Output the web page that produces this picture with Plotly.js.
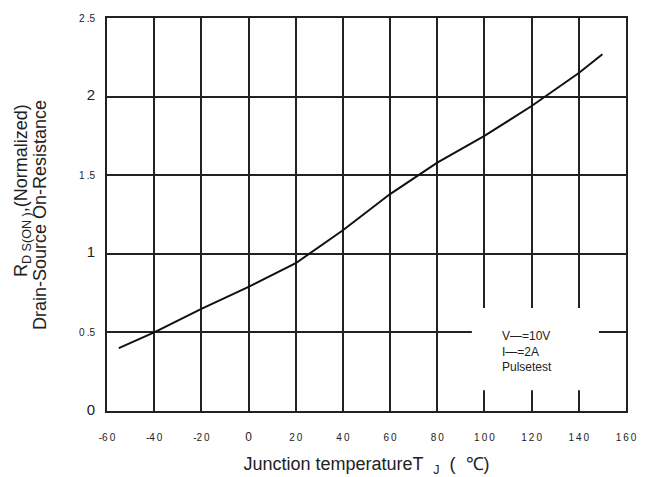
<!DOCTYPE html>
<html>
<head>
<meta charset="utf-8">
<script src="https://cdn.plot.ly/plotly-3.0.1.min.js"></script>
<style>
html,body{margin:0;padding:0;background:#fff;}
#chart{width:647px;height:477px;}
</style>
</head>
<body>
<div id="chart"></div>
<script>
// Data
const temperatureC = [-55, -40, -20, 0, 20, 40, 60, 80, 100, 120, 140, 150];
const rdsNormalized = [0.40, 0.50, 0.65, 0.79, 0.94, 1.15, 1.38, 1.58, 1.75, 1.94, 2.15, 2.27];

const xTickVals = [-60, -40, -20, 0, 20, 40, 60, 80, 100, 120, 140, 160];
const xTickText = ['-6\u20090', '-4\u20090', '-2\u20090', '<span style="font-size:12px">0</span>', '2\u20090', '4\u20090', '6\u20090', '8\u20090', '1\u20090\u20090', '1\u20092\u20090', '1\u20094\u20090', '1\u20096\u20090'];
const yTickVals = [0, 0.5, 1, 1.5, 2, 2.5];
const yTickText = ['<span style="font-size:15px">0</span>', '0\u2009.5', '<span style="font-size:15px">1</span>', '1\u2009.5', '<span style="font-size:15px">2</span>', '2\u2009.5'];

const yTitleLine1 = 'R<sub>D S(ON )</sub>,(Normalized)';
const yTitleLine2 = 'Drain-Source On-Resistance';
const xTitle = 'Junction temperatureT  <sub>J</sub>  (  \u2103)';
const legendLines = ['V\u2014=10V', 'I\u2014=2A', 'Pulsetest'];

const trace = {
  x: temperatureC,
  y: rdsNormalized,
  type: 'scatter',
  mode: 'lines',
  line: {color: '#111', width: 2},
  hoverinfo: 'skip',
  showlegend: false
};

const gridColor = '#222';
const W = 647, H = 477;
const layout = {
  width: W,
  height: H,
  margin: {l: 107, r: 21, t: 18, b: 66},
  paper_bgcolor: '#fff',
  plot_bgcolor: '#fff',
  font: {family: 'Liberation Sans, Arial, sans-serif', color: '#222'},
  xaxis: {
    range: [-60, 160],
    tickvals: xTickVals,
    ticktext: xTickText,
    tickfont: {size: 10, color: '#222'},
    ticks: '',
    ticklabelstandoff: 16,
    showgrid: true,
    gridcolor: gridColor,
    gridwidth: 2,
    zeroline: false,
    showline: true,
    linecolor: gridColor,
    linewidth: 2,
    mirror: true,
    title: {text: xTitle, font: {size: 18, color: '#222'}, standoff: 15}
  },
  yaxis: {
    range: [0, 2.5],
    tickvals: yTickVals,
    ticktext: yTickText,
    tickfont: {size: 10, color: '#222'},
    ticks: '',
    ticklabelstandoff: 8,
    showgrid: true,
    gridcolor: gridColor,
    gridwidth: 2,
    zeroline: false,
    showline: true,
    linecolor: gridColor,
    linewidth: 2,
    mirror: true
  },
  shapes: [{
    type: 'rect', xref: 'paper', yref: 'paper',
    x0: 0.703, x1: 0.948, y0: 0.053, y1: 0.262,
    fillcolor: '#fff', line: {width: 0}, layer: 'above'
  }],
  annotations: [{
    xref: 'paper', yref: 'paper',
    x: 0.758, y: 0.215, xanchor: 'left', yanchor: 'top',
    align: 'left', showarrow: false,
    text: legendLines.join('<br>'),
    font: {size: 12, color: '#222'}
  }, {
    xref: 'paper', yref: 'paper',
    x: (22 - 107) / (W - 128), y: (411 - 191) / 393,
    xanchor: 'center', yanchor: 'middle', textangle: -90, showarrow: false,
    text: yTitleLine1, font: {size: 18, color: '#222'}
  }, {
    xref: 'paper', yref: 'paper',
    x: (40 - 107) / (W - 128), y: (411 - 215) / 393,
    xanchor: 'center', yanchor: 'middle', textangle: -90, showarrow: false,
    text: yTitleLine2, font: {size: 18, color: '#222'}
  }]
};

Plotly.newPlot('chart', [trace], layout, {displayModeBar: false, staticPlot: true});
</script>
</body>
</html>
